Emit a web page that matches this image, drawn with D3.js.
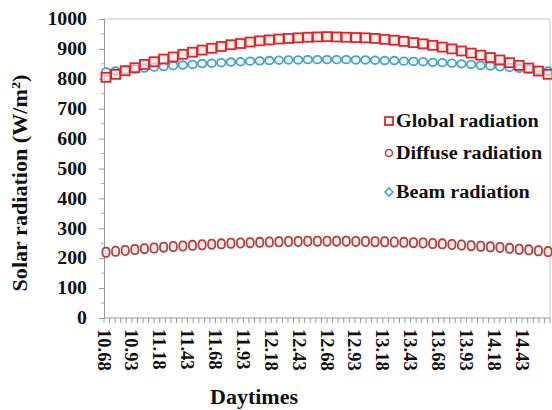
<!DOCTYPE html>
<html><head><meta charset="utf-8">
<script src="https://cdn.jsdelivr.net/npm/d3@7"></script>
<style>
html,body{margin:0;padding:0;background:#fff;}
svg{display:block;}
text{font-family:"Liberation Serif","Times New Roman",serif;font-weight:bold;fill:#111;}
</style></head>
<body>
<svg id="chart" width="552" height="410"></svg>
<script>
// ---- data ----
const xTickLabels = ["10.68","10.93","11.18","11.43","11.68","11.93","12.18","12.43","12.68","12.93","13.18","13.43","13.68","13.93","14.18","14.43"];
const yTicks = [0,100,200,300,400,500,600,700,800,900,1000];
const globalRad = [805,815,827,837,848,857,866,873,882,889,896,902,908,914,918,923,927,930,933,935,937,939,940,941,940,939,938,937,935,932,929,925,921,917,912,906,900,893,886,879,871,863,854,845,836,826,815];
const diffuseRad = [220,223,226,229,232,234,237,239,241,243,245,247,248,250,251,252,253,254,255,256,256,257,257,257,257,257,256,256,255,255,254,253,252,251,249,248,246,244,242,240,238,236,233,230,228,225,222];
const beamRad = [823,826,830,833,836,839,841,844,846,848,851,852,854,856,857,859,860,861,862,863,863,864,864,864,864,864,863,863,862,861,861,859,858,857,855,854,852,850,848,845,843,840,838,835,832,828,826];
const seriesNames = ["Global radiation","Diffuse radiation","Beam radiation"];

// ---- layout ----
const L = 104, R = 550, T = 19, B = 318;
const svg = d3.select("#chart");
const y = d3.scaleLinear().domain([0,1000]).range([B,T]);
const xt = d3.scaleLinear().domain([10.68,14.68]).range([L,R]);
const xi = d3.scaleLinear().domain([0,globalRad.length-1]).range([L+2,R-2]);

// frame
svg.append("line").attr("x1",L).attr("x2",R).attr("y1",T).attr("y2",T).attr("stroke","#c8c8c8");
svg.append("line").attr("x1",R).attr("x2",R).attr("y1",T).attr("y2",B).attr("stroke","#c8c8c8");

// y axis
const yAxis = d3.axisLeft(y).tickValues(yTicks).tickSize(5).tickPadding(12).tickFormat(d3.format("d"));
const gy = svg.append("g").attr("transform",`translate(${L},0)`).call(yAxis);
gy.select(".domain").attr("stroke","#999");
gy.selectAll(".tick line").attr("stroke","#999");
gy.selectAll("text").style("font-size","18px").attr("fill","#111")
  .each(function(){ const w=this.getComputedTextLength(); d3.select(this).attr("textLength",w*1.1).attr("lengthAdjust","spacingAndGlyphs"); });
// minor y ticks
svg.append("g").selectAll("line").data(d3.range(50,1000,100)).join("line")
  .attr("x1",L-3).attr("x2",L).attr("y1",d=>y(d)).attr("y2",d=>y(d)).attr("stroke","#aaa");

// x axis
const tickVals = d3.range(0,81).map(i=>10.68+i*0.05);
const labelVals = xTickLabels.map(Number);
const gx = svg.append("g").attr("transform",`translate(0,${B})`);
gx.append("line").attr("x1",L).attr("x2",R).attr("stroke","#999");
gx.selectAll("line.t").data(tickVals).join("line").attr("class","t")
  .attr("x1",d=>xt(d)).attr("x2",d=>xt(d)).attr("y1",0).attr("y2",5).attr("stroke","#999");
gx.selectAll("text").data(xTickLabels).join("text")
  .attr("transform",(d,i)=>`translate(${xt(labelVals[i])},${11}) rotate(90)`)
  .attr("dy","0.35em").attr("text-anchor","start").style("font-size","18.5px").text(d=>d);

// axis titles
svg.append("text").attr("x",254).attr("y",404).attr("text-anchor","middle").style("font-size","20px")
  .attr("textLength",88).attr("lengthAdjust","spacingAndGlyphs").text("Daytimes");
const yt = svg.append("text").attr("text-anchor","middle").style("font-size","20px");
yt.append("tspan").text("Solar radiation (W/m");
yt.append("tspan").attr("baseline-shift","super").style("font-size","13px").text("2");
yt.append("tspan").text(")");
const ytl = yt.node().getComputedTextLength();
yt.attr("transform",`translate(27,183) rotate(-90) scale(${217/ytl},1)`);

// series
const gG = "#e2232a", dC = "#b9423f", bC = "#4aa3c8";
svg.append("g").selectAll("ellipse").data(beamRad).join("ellipse")
  .attr("cx",(d,i)=>xi(i)).attr("cy",d=>y(d)).attr("rx",4.3).attr("ry",3.8)
  .attr("fill","#eef7fb").attr("stroke",bC).attr("stroke-width",1.8);
svg.append("g").selectAll("rect").data(globalRad).join("rect")
  .attr("x",(d,i)=>xi(i)-4.5).attr("y",d=>y(d)-4.5).attr("width",9).attr("height",9)
  .attr("fill","#fbe8df").attr("fill-opacity",0.6).attr("stroke",gG).attr("stroke-width",1.8);
svg.append("g").selectAll("rect").data(diffuseRad).join("rect")
  .attr("x",(d,i)=>xi(i)-3.6).attr("y",d=>y(d)-4.6).attr("width",7.2).attr("height",9.2)
  .attr("rx",3).attr("ry",3.5)
  .attr("fill","#fdf1ef").attr("stroke",dC).attr("stroke-width",1.8);

// legend
const lg = svg.append("g");
const ly = [121,153,192];
lg.append("rect").attr("x",385).attr("y",ly[0]-4).attr("width",8).attr("height",8).attr("fill","#fff").attr("stroke",gG).attr("stroke-width",1.8);
lg.append("circle").attr("cx",389).attr("cy",ly[1]).attr("r",3.5).attr("fill","#fff").attr("stroke",dC).attr("stroke-width",1.6);
lg.append("path").attr("d",`M389,${ly[2]-4}L393,${ly[2]}L389,${ly[2]+4}L385,${ly[2]}Z`).attr("fill","#fff").attr("stroke",bC).attr("stroke-width",1.6);
lg.selectAll("text").data(seriesNames).join("text")
  .attr("x",396).attr("y",(d,i)=>ly[i]).attr("dy","0.35em").style("font-size","18px").text(d=>d)
  .each(function(){ const w=this.getComputedTextLength(); d3.select(this).attr("textLength",w*1.12).attr("lengthAdjust","spacingAndGlyphs"); });
</script>
</body></html>
